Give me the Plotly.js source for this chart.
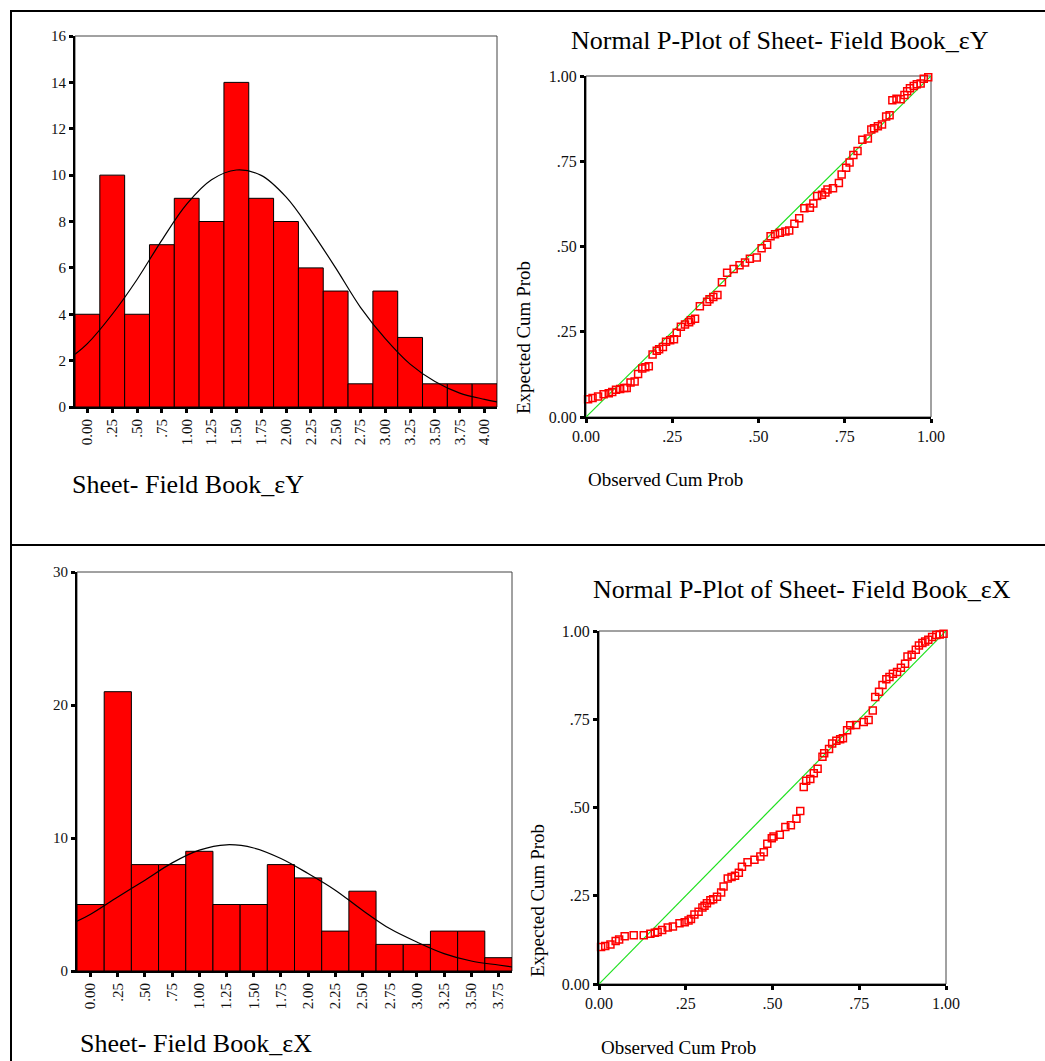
<!DOCTYPE html>
<html>
<head>
<meta charset="utf-8">
<script src="https://cdn.plot.ly/plotly-3.0.1.min.js"></script>
<style>html,body{margin:0;padding:0;background:#fff;}#chart{width:1045px;height:1061px;}</style>
</head>
<body>
<div id="chart"></div>
<script>
// ---------- Data ----------
// Histogram of εY (bin centres, counts)
const binsY = [0, 0.25, 0.5, 0.75, 1.0, 1.25, 1.5, 1.75, 2.0, 2.25, 2.5, 2.75, 3.0, 3.25, 3.5, 3.75, 4.0];
const labelsY = ["0.00", ".25", ".50", ".75", "1.00", "1.25", "1.50", "1.75", "2.00", "2.25", "2.50", "2.75", "3.00", "3.25", "3.50", "3.75", "4.00"];
const countsY = [4, 10, 4, 7, 9, 8, 14, 9, 8, 6, 5, 1, 5, 3, 1, 1, 1];
// Normal curve over εY histogram
const curveYx = [-0.125, 0, 0.25, 0.5, 0.75, 1.0, 1.25, 1.5, 1.75, 2.0, 2.25, 2.5, 2.75, 3.0, 3.25, 3.5, 3.75, 4.0, 4.125];
const curveYv = [2.27, 2.73, 4.0, 5.5, 7.2, 8.75, 9.8, 10.22, 9.99, 9.06, 7.62, 6.0, 4.3, 2.95, 1.85, 1.1, 0.6, 0.33, 0.22];
const histYticks = [0, 2, 4, 6, 8, 10, 12, 14, 16];

// Histogram of εX
const binsX = [0, 0.25, 0.5, 0.75, 1.0, 1.25, 1.5, 1.75, 2.0, 2.25, 2.5, 2.75, 3.0, 3.25, 3.5, 3.75];
const labelsX = ["0.00", ".25", ".50", ".75", "1.00", "1.25", "1.50", "1.75", "2.00", "2.25", "2.50", "2.75", "3.00", "3.25", "3.50", "3.75"];
const countsX = [5, 21, 8, 8, 9, 5, 5, 8, 7, 3, 6, 2, 2, 3, 3, 1];
const curveXx = [-0.125, 0, 0.25, 0.5, 0.75, 1.0, 1.25, 1.5, 1.75, 2.0, 2.25, 2.5, 2.75, 3.0, 3.25, 3.5, 3.75, 3.875];
const curveXv = [3.74, 4.27, 5.57, 6.83, 8.13, 9.09, 9.49, 9.25, 8.46, 7.33, 6.08, 4.57, 3.19, 2.18, 1.31, 0.75, 0.45, 0.30];
const histXticks = [0, 10, 20, 30];

// P-P plot ticks
const ppTicks = [0, 0.25, 0.5, 0.75, 1.0];
const ppLabels = ["0.00", ".25", ".50", ".75", "1.00"];
const diagX = [0, 1];
const diagY = [0, 1];

// P-P plot εY (observed, expected)
const ppYobs = [0.006,0.019,0.035,0.051,0.066,0.076,0.087,0.099,0.111,0.118,0.129,0.141,0.151,0.163,0.172,0.182,0.193,0.205,0.212,0.223,0.232,0.244,0.255,0.263,0.275,0.287,0.299,0.304,0.316,0.330,0.351,0.358,0.369,0.381,0.394,0.409,0.428,0.445,0.461,0.475,0.495,0.509,0.525,0.535,0.548,0.562,0.578,0.589,0.604,0.618,0.633,0.649,0.659,0.670,0.684,0.694,0.700,0.716,0.733,0.741,0.754,0.764,0.775,0.787,0.801,0.817,0.827,0.835,0.846,0.858,0.870,0.880,0.888,0.900,0.912,0.923,0.931,0.939,0.950,0.959,0.970,0.979,0.992];
const ppYexp = [0.052,0.056,0.060,0.067,0.070,0.073,0.080,0.082,0.085,0.085,0.101,0.104,0.126,0.142,0.146,0.149,0.183,0.194,0.199,0.205,0.221,0.225,0.228,0.247,0.265,0.271,0.278,0.284,0.288,0.325,0.338,0.345,0.352,0.358,0.395,0.423,0.434,0.445,0.453,0.464,0.468,0.495,0.505,0.530,0.536,0.540,0.544,0.547,0.567,0.583,0.612,0.614,0.626,0.648,0.652,0.658,0.667,0.671,0.686,0.711,0.731,0.746,0.768,0.780,0.813,0.817,0.843,0.847,0.853,0.858,0.881,0.885,0.929,0.933,0.932,0.944,0.955,0.964,0.971,0.976,0.978,0.992,0.996];

// P-P plot εX
const ppXobs = [0.006,0.018,0.033,0.048,0.058,0.074,0.100,0.129,0.148,0.161,0.169,0.182,0.198,0.213,0.232,0.247,0.258,0.265,0.275,0.287,0.298,0.304,0.311,0.321,0.329,0.340,0.352,0.359,0.371,0.382,0.392,0.403,0.412,0.428,0.448,0.465,0.475,0.485,0.498,0.503,0.521,0.537,0.553,0.569,0.580,0.590,0.597,0.609,0.619,0.630,0.644,0.649,0.663,0.672,0.684,0.695,0.703,0.715,0.724,0.741,0.763,0.777,0.789,0.796,0.807,0.817,0.828,0.837,0.847,0.859,0.870,0.882,0.889,0.901,0.913,0.922,0.932,0.940,0.949,0.960,0.972,0.982,0.993];
const ppXexp = [0.105,0.108,0.112,0.122,0.126,0.135,0.138,0.138,0.142,0.145,0.147,0.153,0.160,0.163,0.172,0.175,0.180,0.184,0.197,0.205,0.217,0.222,0.229,0.237,0.240,0.247,0.259,0.276,0.299,0.303,0.307,0.315,0.332,0.345,0.352,0.361,0.373,0.397,0.413,0.418,0.423,0.445,0.450,0.468,0.490,0.558,0.576,0.581,0.597,0.610,0.644,0.654,0.666,0.681,0.689,0.693,0.696,0.719,0.733,0.734,0.742,0.748,0.775,0.813,0.828,0.847,0.863,0.870,0.879,0.884,0.896,0.907,0.928,0.933,0.947,0.959,0.966,0.970,0.975,0.983,0.989,0.990,0.992];

// ---------- Layout geometry (pixels) ----------
const W = 1045, H = 1061;
function dx(a, b) { return [a / W, b / W]; }
function dy(top, bottom) { return [1 - bottom / H, 1 - top / H]; }

const FONT = "Liberation Serif, Times New Roman, Times, serif";
const tickFont = {family: FONT, size: 15, color: "#111"};

function axisBase(extra) {
  return Object.assign({
    showline: true, linecolor: "#000", linewidth: 2, mirror: false,
    showgrid: false, zeroline: false, ticks: "outside", ticklen: 4, tickwidth: 3,
    tickcolor: "#000", tickfont: tickFont, fixedrange: true, tickmode: "array"
  }, extra);
}

const d1x = dx(75, 497), d1y = dy(36, 407);
const d2x = dx(586, 931), d2y = dy(76, 417);
const d3x = dx(77, 512), d3y = dy(572, 971);
const d4x = dx(599, 946), d4y = dy(631, 984);

const traces = [
  {type: "bar", x: binsY, y: countsY, width: 0.25, xaxis: "x", yaxis: "y",
   marker: {color: "#ff0000", line: {color: "#000", width: 1}}, hoverinfo: "x+y"},
  {type: "scatter", mode: "lines", x: curveYx, y: curveYv, xaxis: "x", yaxis: "y",
   line: {color: "#000", width: 1.2, shape: "spline"}},
  {type: "scatter", mode: "lines", x: diagX, y: diagY, xaxis: "x2", yaxis: "y2",
   line: {color: "#1ee01e", width: 1.2}},
  {type: "scatter", mode: "markers", x: ppYobs, y: ppYexp, xaxis: "x2", yaxis: "y2", cliponaxis: false,
   marker: {symbol: "square-open", size: 7, color: "#ff0000", line: {color: "#ff0000", width: 1.5}}},
  {type: "bar", x: binsX, y: countsX, width: 0.25, xaxis: "x3", yaxis: "y3",
   marker: {color: "#ff0000", line: {color: "#000", width: 1}}, hoverinfo: "x+y"},
  {type: "scatter", mode: "lines", x: curveXx, y: curveXv, xaxis: "x3", yaxis: "y3",
   line: {color: "#000", width: 1.2, shape: "spline"}},
  {type: "scatter", mode: "lines", x: diagX, y: diagY, xaxis: "x4", yaxis: "y4",
   line: {color: "#1ee01e", width: 1.2}},
  {type: "scatter", mode: "markers", x: ppXobs, y: ppXexp, xaxis: "x4", yaxis: "y4", cliponaxis: false,
   marker: {symbol: "square-open", size: 7, color: "#ff0000", line: {color: "#ff0000", width: 1.5}}}
];

function frame(xd, yd) {
  return {type: "rect", xref: "paper", yref: "paper", x0: xd[0], x1: xd[1], y0: yd[0], y1: yd[1],
          line: {color: "#444", width: 1}, layer: "below"};
}
function hline(x0, x1, ypx) {
  return {type: "line", xref: "paper", yref: "paper", x0: x0 / W, x1: x1 / W, y0: 1 - ypx / H, y1: 1 - ypx / H,
          line: {color: "#000", width: 2}};
}
function vline(xpx, y0, y1) {
  return {type: "line", xref: "paper", yref: "paper", x0: xpx / W, x1: xpx / W, y0: 1 - y0 / H, y1: 1 - y1 / H,
          line: {color: "#000", width: 2}};
}

function ann(text, xpx, ypx, size, xanchor, angle) {
  return {text: text, xref: "paper", yref: "paper", x: xpx / W, y: 1 - ypx / H, showarrow: false,
          xanchor: xanchor || "center", yanchor: "middle", textangle: angle || 0,
          font: {family: FONT, size: size, color: "#000"}};
}

const layout = {
  width: W, height: H, margin: {l: 0, r: 0, t: 0, b: 0},
  paper_bgcolor: "#fff", plot_bgcolor: "#fff", showlegend: false, bargap: 0,
  xaxis: axisBase({domain: d1x, anchor: "y", range: [-0.125, 4.125], tickvals: binsY, ticktext: labelsY, tickangle: -90}),
  yaxis: axisBase({domain: d1y, anchor: "x", range: [0, 16], tickvals: histYticks, ticktext: histYticks.map(String)}),
  xaxis2: axisBase({domain: d2x, anchor: "y2", range: [0, 1], tickvals: ppTicks, ticktext: ppLabels, tickfont: {family: FONT, size: 16, color: "#111"}}),
  yaxis2: axisBase({domain: d2y, anchor: "x2", range: [0, 1], tickvals: ppTicks, ticktext: ppLabels, tickfont: {family: FONT, size: 16, color: "#111"}}),
  xaxis3: axisBase({domain: d3x, anchor: "y3", range: [-0.125, 3.875], tickvals: binsX, ticktext: labelsX, tickangle: -90}),
  yaxis3: axisBase({domain: d3y, anchor: "x3", range: [0, 30], tickvals: histXticks, ticktext: histXticks.map(String)}),
  xaxis4: axisBase({domain: d4x, anchor: "y4", range: [0, 1], tickvals: ppTicks, ticktext: ppLabels, tickfont: {family: FONT, size: 16, color: "#111"}}),
  yaxis4: axisBase({domain: d4y, anchor: "x4", range: [0, 1], tickvals: ppTicks, ticktext: ppLabels, tickfont: {family: FONT, size: 16, color: "#111"}}),
  shapes: [
    frame(d1x, d1y), frame(d2x, d2y), frame(d3x, d3y), frame(d4x, d4y),
    hline(10, 1045, 11), hline(10, 1045, 545), vline(11, 10, 1061)
  ],
  annotations: [
    ann("Sheet- Field Book_εY", 70, 484, 26, "left"),
    ann("Normal P-Plot of Sheet- Field Book_εY", 780, 40, 26),
    ann("Observed Cum Prob", 586, 479, 19, "left"),
    ann("Expected Cum Prob", 523, 338, 19, "center", -90),
    ann("Sheet- Field Book_εX", 78, 1043, 26, "left"),
    ann("Normal P-Plot of Sheet- Field Book_εX", 802, 589, 26),
    ann("Observed Cum Prob", 599, 1047, 19, "left"),
    ann("Expected Cum Prob", 537, 901, 19, "center", -90)
  ]
};

Plotly.newPlot("chart", traces, layout, {staticPlot: true, displayModeBar: false});
</script>
</body>
</html>
